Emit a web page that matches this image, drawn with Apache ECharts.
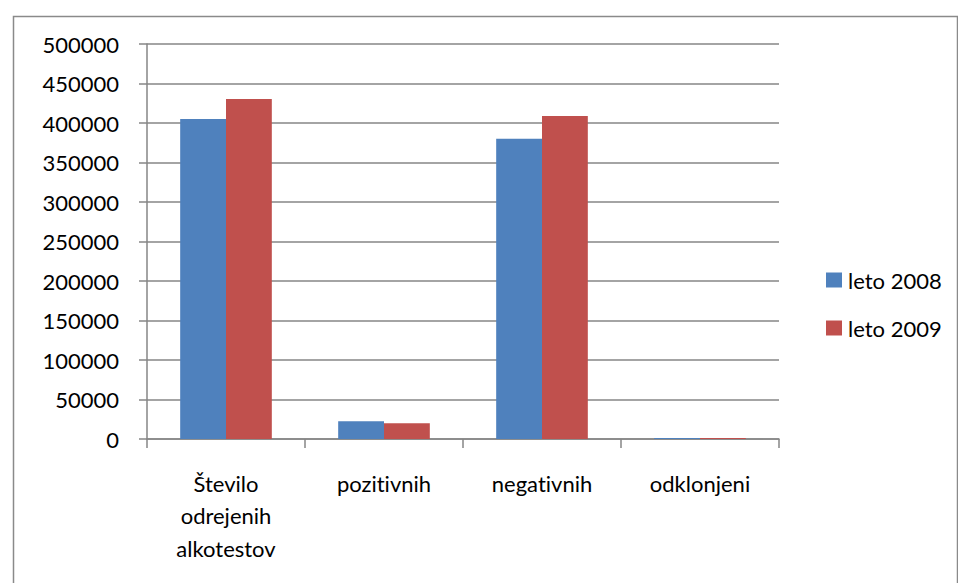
<!DOCTYPE html>
<html><head><meta charset="utf-8">
<script src="https://cdn.jsdelivr.net/npm/echarts@6/dist/echarts.min.js"></script>
<style>html,body{margin:0;padding:0;background:#fff}#c{width:958px;height:583px;font-variant-ligatures:none}#c text{font-variant-ligatures:none}</style>
</head><body><div id="c"></div>
<script>
const categories = ['Število\nodrejenih\nalkotestov', 'pozitivnih', 'negativnih', 'odklonjeni'];
const seriesNames = ['leto 2008', 'leto 2009'];
const values2008 = [405000, 22400, 380000, 1300];
const values2009 = [430500, 19900, 409000, 1200];
const colors = ['#4F81BD', '#C0504D'];
const FONT = 'Lato';

const chart = echarts.init(document.getElementById('c'), null, {renderer: 'svg'});
chart.setOption({
  animation: false,
  textStyle: {fontFamily: FONT},
  graphic: [{
    type: 'rect', left: 11, top: 14,
    shape: {width: 944, height: 572},
    style: {fill: 'none', stroke: '#8a8a8a', lineWidth: 1.5}, silent: true
  }],
  grid: {left: 147, right: 179, top: 44, bottom: 144, containLabel: false},
  legend: {
    orient: 'vertical', left: 821, top: 264,
    itemWidth: 16, itemHeight: 15, itemGap: 26,
    icon: 'rect',
    textStyle: {fontFamily: FONT, fontSize: 22, color: '#000', padding: [0, 0, 0, 1]},
    data: seriesNames
  },
  xAxis: {
    type: 'category', data: categories,
    axisLine: {lineStyle: {color: '#868686', width: 1.5}},
    axisTick: {show: true, length: 9, lineStyle: {color: '#868686', width: 1.5}},
    axisLabel: {fontFamily: FONT, fontSize: 22, color: '#000', margin: 28, lineHeight: 32.5, interval: 0}
  },
  yAxis: {
    type: 'value', min: 0, max: 500000, interval: 50000,
    axisLine: {show: true, lineStyle: {color: '#868686', width: 1.5}},
    axisTick: {show: true, length: 8, lineStyle: {color: '#868686', width: 1.5}},
    splitLine: {lineStyle: {color: '#868686', width: 1.5}},
    axisLabel: {fontFamily: FONT, fontSize: 22, color: '#000', margin: 28, formatter: v => String(v)}
  },
  series: [
    {name: seriesNames[0], type: 'bar', data: values2008, itemStyle: {color: colors[0]}, barGap: '0%', barCategoryGap: '42%'},
    {name: seriesNames[1], type: 'bar', data: values2009, itemStyle: {color: colors[1]}, barGap: '0%', barCategoryGap: '42%'}
  ]
});
</script></body></html>
